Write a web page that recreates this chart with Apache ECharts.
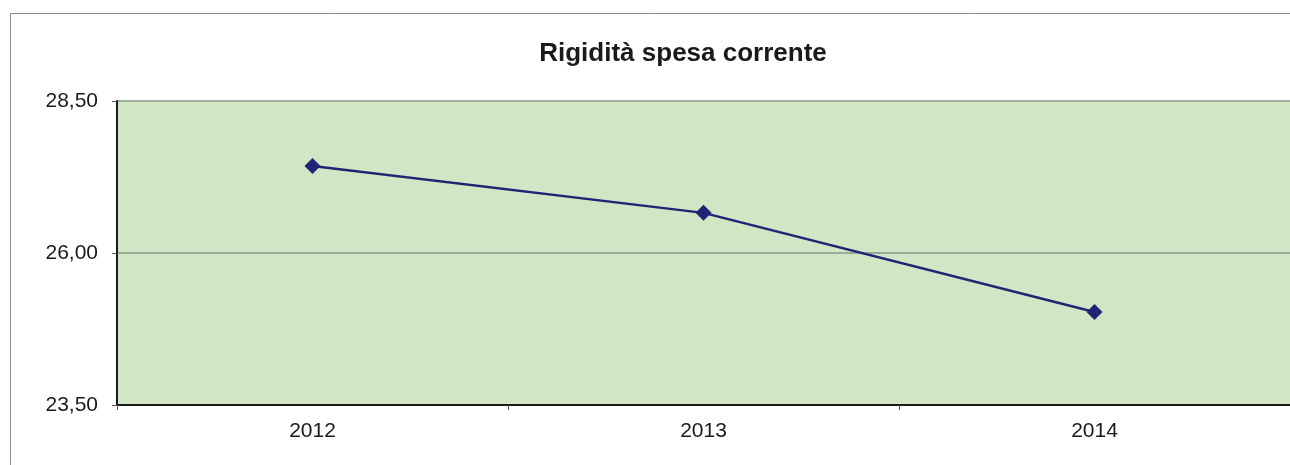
<!DOCTYPE html>
<html><head><meta charset="utf-8">
<script src="https://cdn.jsdelivr.net/npm/echarts@6/dist/echarts.min.js"></script>
<style>html,body{margin:0;padding:0;background:#fff}#c{width:1290px;height:465px}</style>
</head><body><div id="c"></div>
<script>
const categories = ['2012', '2013', '2014'];
const values = [27.43, 26.66, 25.03];
const yTicks = [23.5, 26.0, 28.5];

const chart = echarts.init(document.getElementById('c'), null, {renderer: 'canvas'});
chart.setOption({
  animation: false,
  backgroundColor: '#fff',
  title: {
    text: 'Rigidità spesa corrente',
    left: 678, top: 36, textAlign: 'center',
    textStyle: {fontFamily: 'Liberation Sans, Arial', fontSize: 26, fontWeight: 'bold', color: '#1a1a1a'}
  },
  graphic: [
    {type: 'line', shape: {x1: 10.5, y1: 13.5, x2: 1290, y2: 13.5}, style: {stroke: '#8c8c8c', lineWidth: 1}},
    {type: 'line', shape: {x1: 10.5, y1: 13.5, x2: 10.5, y2: 465}, style: {stroke: '#8c8c8c', lineWidth: 1}}
  ],
  grid: {left: 117, top: 101, right: -1, bottom: 60, show: true, backgroundColor: '#d0e6c5', borderWidth: 0},
  xAxis: {
    type: 'category', data: categories, boundaryGap: true,
    axisLine: {lineStyle: {color: '#1a1a1a', width: 2}},
    axisTick: {show: true, length: 5, lineStyle: {color: '#555'}},
    axisLabel: {fontFamily: 'Liberation Sans, Arial', fontSize: 21, color: '#1a1a1a', margin: 16}
  },
  yAxis: {
    type: 'value', min: yTicks[0], max: yTicks[2], interval: 2.5,
    axisLine: {show: true, lineStyle: {color: '#1a1a1a', width: 2}},
    axisTick: {show: true, length: 5, lineStyle: {color: '#555'}},
    splitLine: {show: true, lineStyle: {color: '#8a9688', width: 1.5}},
    axisLabel: {fontFamily: 'Liberation Sans, Arial', fontSize: 21, color: '#1a1a1a', margin: 19,
      formatter: v => v.toFixed(2).replace('.', ',')}
  },
  series: [{
    type: 'line', data: values,
    symbol: 'diamond', symbolSize: 16,
    lineStyle: {color: '#232373', width: 2.5},
    itemStyle: {color: '#232373'}
  }]
});
</script></body></html>
